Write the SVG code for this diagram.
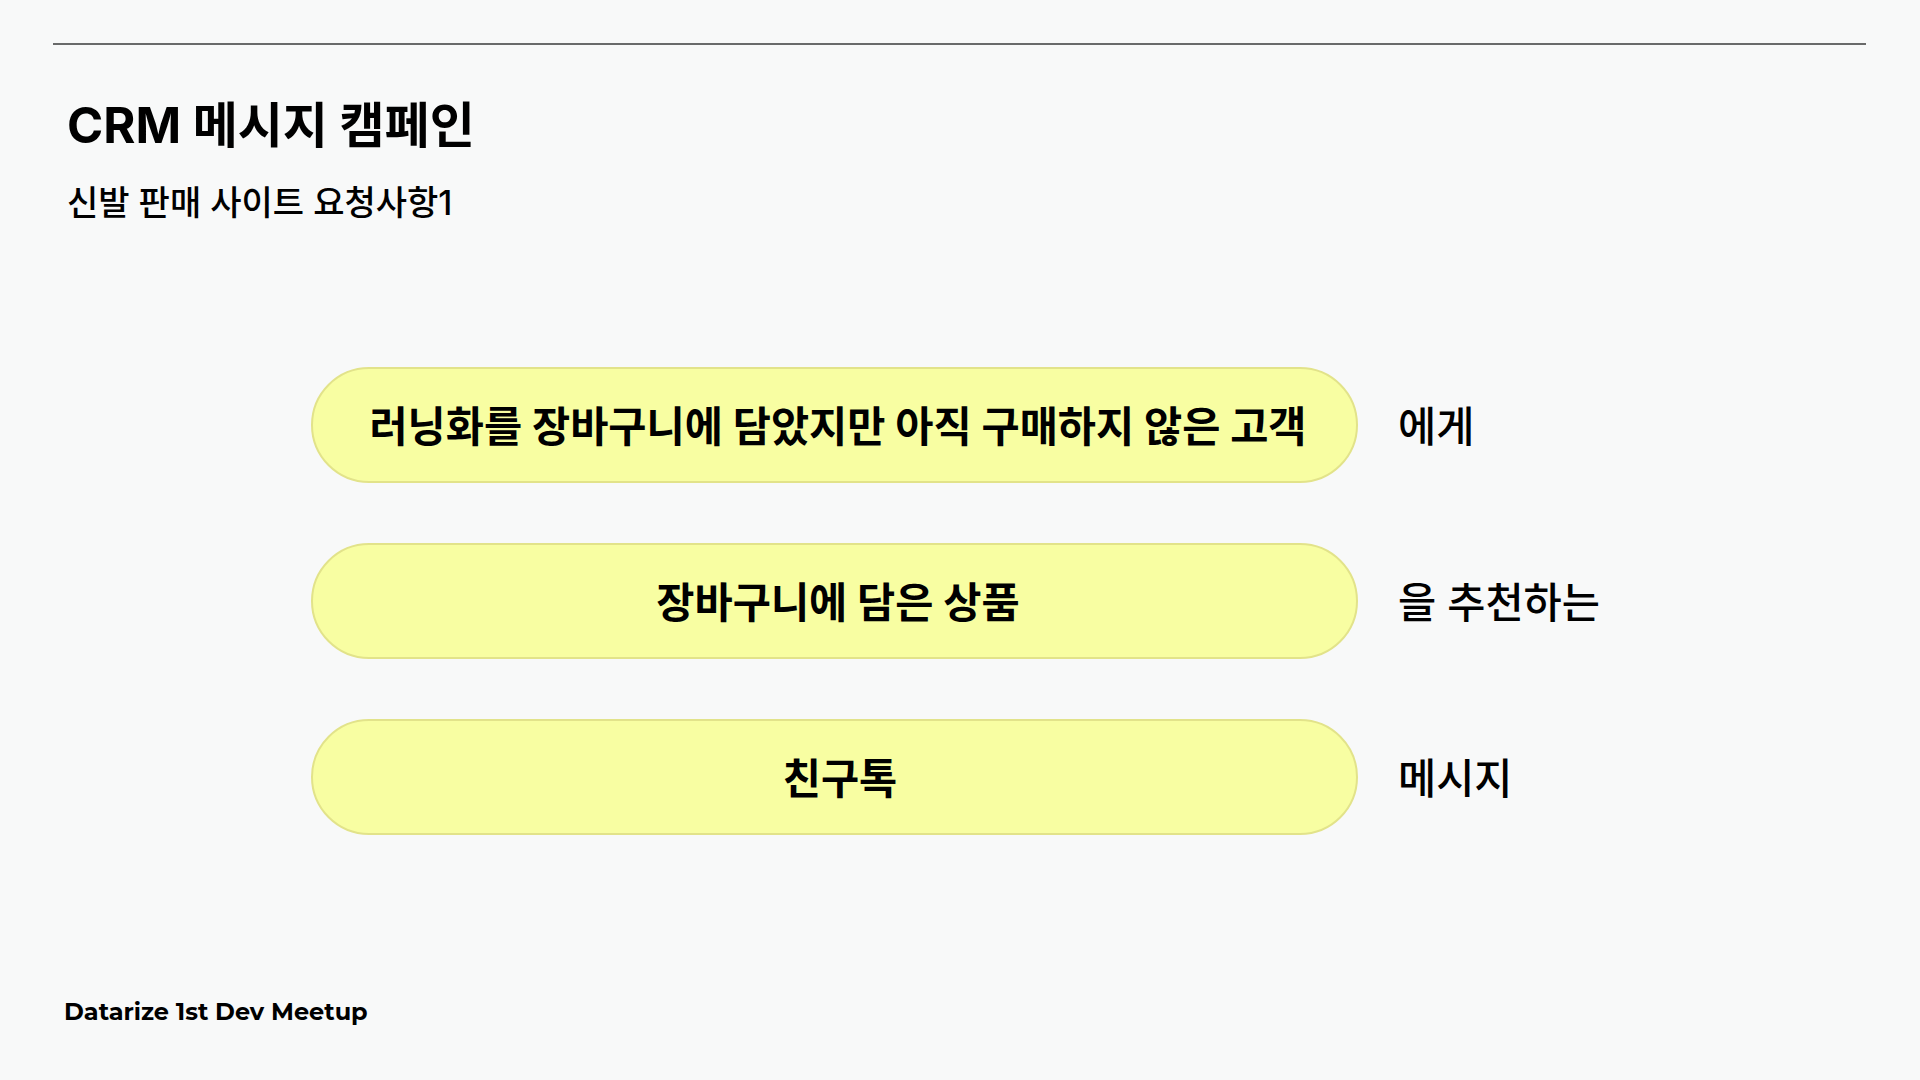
<svg xmlns="http://www.w3.org/2000/svg" width="1920" height="1080" viewBox="0 0 1920 1080">
<style>
.bg{fill:#F8F9F9}
.rule{stroke:#3a3a3a;stroke-width:1.3}
.title{font-family:Inter,"Noto Sans CJK KR",sans-serif;font-weight:700;font-size:49px;fill:#000}
.sub{font-family:Inter,"Noto Sans CJK KR",sans-serif;font-weight:500;font-size:34px;fill:#000}
.pill{fill:#F8FEA2;stroke:#E2E38A;stroke-width:2}
.ptext{font-family:Inter,"Noto Sans CJK KR",sans-serif;font-weight:700;font-size:41.5px;fill:#000;text-anchor:middle}
.side{font-family:Inter,"Noto Sans CJK KR",sans-serif;font-weight:500;font-size:41.5px;fill:#000}
.foot{font-family:Montserrat,Lato,"Open Sans",sans-serif;font-weight:700;font-size:24px;fill:#000}
</style>
<rect class="bg" x="0" y="0" width="1920" height="1080"/>
<line class="rule" x1="53" y1="44" x2="1866" y2="44"/>
<g id="header">
<text class="title" x="67" y="143">CRM 메시지 캠페인</text>
<text class="sub" x="67" y="215">신발 판매 사이트 요청사항1</text>
</g>
<g id="node-target">
<rect class="pill" x="312" y="368" width="1045" height="114" rx="57"/>
<text class="ptext" x="838" y="442">러닝화를 장바구니에 담았지만 아직 구매하지 않은 고객</text>
<text class="side" x="1398" y="442">에게</text>
</g>
<g id="node-item">
<rect class="pill" x="312" y="544" width="1045" height="114" rx="57"/>
<text class="ptext" x="838" y="618">장바구니에 담은 상품</text>
<text class="side" x="1398" y="618">을 추천하는</text>
</g>
<g id="node-channel">
<rect class="pill" x="312" y="720" width="1045" height="114" rx="57"/>
<text class="ptext" x="840" y="794">친구톡</text>
<text class="side" x="1398" y="794">메시지</text>
</g>
<g id="connectors"/>
<text class="foot" x="64" y="1020">Datarize 1st Dev Meetup</text>
</svg>
